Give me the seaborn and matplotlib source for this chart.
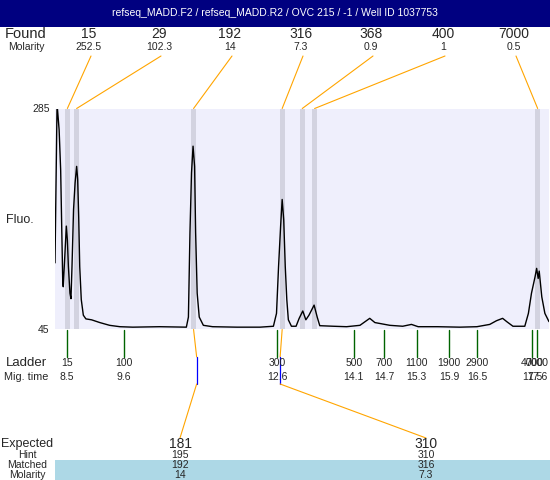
import matplotlib
matplotlib.use("Agg")
import matplotlib.pyplot as plt
import seaborn as sns
from matplotlib.patches import Rectangle

title = "refseq_MADD.F2 / refseq_MADD.R2 / OVC 215 / -1 / Well ID 1037753"

# electropherogram trace: migration time (min) vs fluorescence
trace_time = [8.27, 8.31, 8.35, 8.38, 8.40, 8.42, 8.43, 8.46, 8.49, 8.51, 8.53, 8.56,
              8.58, 8.60, 8.63, 8.66, 8.69, 8.71, 8.73, 8.75, 8.78, 8.82, 8.87, 8.98,
              9.14, 9.33, 9.53, 9.78, 10.30, 10.82, 10.86, 10.89, 10.92, 10.95, 10.98,
              11.00, 11.03, 11.07, 11.15, 11.33, 11.80, 12.25, 12.51, 12.57, 12.61,
              12.65, 12.68, 12.71, 12.74, 12.77, 12.80, 12.86, 12.95, 13.01, 13.08,
              13.14, 13.20, 13.30, 13.36, 13.41, 13.67, 13.93, 14.19, 14.38, 14.48,
              14.77, 15.02, 15.19, 15.32, 15.70, 16.13, 16.46, 16.71, 16.84, 16.96,
              17.04, 17.16, 17.39, 17.46, 17.52, 17.59, 17.62, 17.65, 17.67, 17.72,
              17.78, 17.86]
trace_fluo = [117, 290, 262, 218, 157, 98, 91, 124, 157, 142, 113, 84,
              78, 113, 175, 204, 222, 208, 167, 113, 77, 60, 56, 55,
              52, 49, 47.5, 47, 47.5, 47, 58, 150, 215, 244, 222,
              150, 84, 58, 49, 47.5, 47, 47, 48, 62, 113,
              157, 186, 164, 113, 77, 55, 48, 48, 56.6, 64.6,
              55, 60, 71, 58, 48.6, 48, 47.5, 49, 56.6, 52,
              49, 48, 50, 47.5, 47.5, 47, 47.5, 50, 54, 56.6,
              53, 48, 48, 62, 84, 102, 111, 100, 108, 80,
              62, 53]

# found peaks
found_size = [15, 29, 192, 316, 368, 400, 7000]
found_molarity = [252.5, 102.3, 14, 7.3, 0.9, 1, 0.5]
found_time = [8.51, 8.69, 10.96, 12.68, 13.07, 13.31, 17.64]

# ladder
ladder_size = [15, 100, 300, 500, 700, 1100, 1900, 2900, 4000, 7000]
ladder_time = [8.50, 9.61, 12.58, 14.07, 14.66, 15.29, 15.92, 16.46, 17.53, 17.63]

# expected fragments
expected_size = [181, 310]
hint_size = [195, 310]
matched_size = [192, 316]
matched_molarity = [14, 7.3]
expected_time = [11.02, 12.64]
matched_time = [10.96, 12.68]

sns.set_style("white")
plt.rcParams["font.family"] = ["Liberation Sans", "DejaVu Sans"]

fig = plt.figure(figsize=(5.5, 4.8), dpi=100)
ax = fig.add_axes([55 / 550, 151 / 480, 494 / 550, 220.5 / 480])
ax.set_facecolor("#EFEFFC")

band_w = 5 / 51.5
for t in found_time:
    ax.axvspan(t - band_w / 2, t + band_w / 2, color="#D3D3E0", lw=0)

sns.lineplot(x=trace_time, y=trace_fluo, ax=ax, color="black", linewidth=1.0,
             estimator=None)
ax.set_xlim(8.27, 17.86)
ax.set_ylim(45, 285)
ax.set_xticks([])
ax.set_yticks([45, 285])
ax.tick_params(axis="y", length=2, labelsize=7.5, pad=2)
ax.set_xlabel("")
ax.set_ylabel("")
sns.despine(ax=ax, left=True, bottom=True)

# overlay in pixel coordinates for the header / footer annotations
ov = fig.add_axes([0, 0, 1, 1], zorder=5)
ov.set_xlim(0, 550)
ov.set_ylim(480, 0)
ov.axis("off")
ov.patch.set_alpha(0)


def px(t):
    return ax.transData.transform((t, 45))[0]


ov.add_patch(Rectangle((0, 0), 550, 27, color="#000080", lw=0))
ov.text(275, 13.5, title, color="white", fontsize=7.5, ha="center", va="center")

ov.text(26, 34, "Found", fontsize=10.5, ha="center", va="center")
ov.text(26, 47, "Molarity", fontsize=7.5, ha="center", va="center")
found_label_x = [89, 159, 230, 301, 371, 443, 514]
for lx, s, m, t in zip(found_label_x, found_size, found_molarity, found_time):
    ov.text(lx, 34, str(s), fontsize=10, ha="center", va="center")
    ov.text(lx, 47, f"{m:g}", fontsize=7.5, ha="center", va="center")
    ov.plot([lx + 2, px(t)], [56, 108.5], color="orange", lw=0.8)

ov.text(20, 220, "Fluo.", fontsize=9, ha="center", va="center")

# ladder ticks
ov.text(26, 363, "Ladder", fontsize=9.5, ha="center", va="center")
ov.text(26, 377, "Mig. time", fontsize=7.8, ha="center", va="center")
for s, t in zip(ladder_size, ladder_time):
    x = px(t)
    ov.plot([x, x], [329.5, 356.5], color="#006400", lw=1.0)
    ov.text(x, 363, str(s), fontsize=7.5, ha="center", va="center")
    ov.text(x, 377, f"{t:.1f}", fontsize=7.5, ha="center", va="center")

# expected -> matched connections
exp_label_x = [180, 426]
for lx, te, tm in zip(exp_label_x, expected_time, matched_time):
    xe, xm = px(te), px(tm)
    ov.plot([xm, xe], [329.5, 357], color="orange", lw=0.8)
    ov.plot([xe, xe], [357, 384], color="blue", lw=0.9)
    ov.plot([xe, lx], [384, 438], color="orange", lw=0.8)

ov.add_patch(Rectangle((55, 460), 495, 20, color="#ADD8E6", lw=0))
ov.text(27, 444, "Expected", fontsize=9, ha="center", va="center")
ov.text(27, 455, "Hint", fontsize=7.5, ha="center", va="center")
ov.text(27, 465, "Matched", fontsize=7.5, ha="center", va="center")
ov.text(27, 475, "Molarity", fontsize=7.5, ha="center", va="center")
for lx, e, h, m, mm in zip(exp_label_x, expected_size, hint_size, matched_size,
                           matched_molarity):
    ov.text(lx, 444, str(e), fontsize=10, ha="center", va="center")
    ov.text(lx, 455, str(h), fontsize=7.5, ha="center", va="center")
    ov.text(lx, 465, str(m), fontsize=7.5, ha="center", va="center")
    ov.text(lx, 475, f"{mm:g}", fontsize=7.5, ha="center", va="center")

fig.savefig("out.png", dpi=100)
